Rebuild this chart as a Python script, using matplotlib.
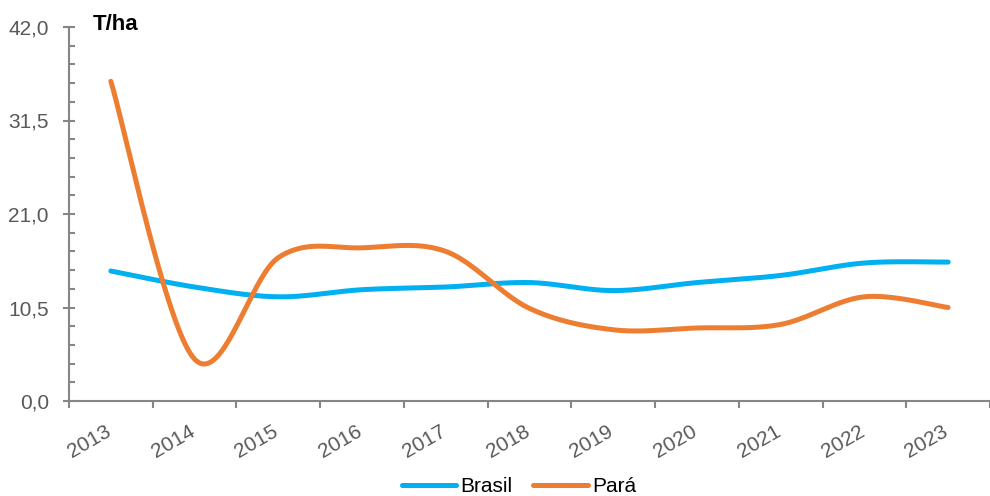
import numpy as np
import matplotlib.pyplot as plt
from matplotlib.ticker import FixedLocator, FuncFormatter, MultipleLocator

anos = ['2013', '2014', '2015', '2016', '2017', '2018', '2019', '2020', '2021', '2022', '2023']
brasil = [14.6, 12.8, 11.7, 12.5, 12.8, 13.3, 12.4, 13.3, 14.1, 15.5, 15.6]
para = [35.9, 4.7, 16.1, 17.2, 16.8, 10.4, 8.0, 8.2, 8.6, 11.7, 10.5]

cor_brasil = '#00B0F0'
cor_para = '#ED7D31'
cinza = '#595959'


def suaviza(y, n=40):
    # curva tipo Excel (bezier com pontos de controle catmull-rom)
    y = np.asarray(y, float)
    x = np.arange(len(y), dtype=float)
    px = np.concatenate([[x[0]], x, [x[-1]]])
    py = np.concatenate([[y[0]], y, [y[-1]]])
    xs, ys = [], []
    t = np.linspace(0, 1, n)
    for i in range(len(y) - 1):
        p0 = np.array([px[i], py[i]])
        p1 = np.array([px[i + 1], py[i + 1]])
        p2 = np.array([px[i + 2], py[i + 2]])
        p3 = np.array([px[i + 3], py[i + 3]])
        c1 = p1 + (p2 - p0) / 6.0
        c2 = p2 - (p3 - p1) / 6.0
        b = ((1 - t) ** 3)[:, None] * p1 + (3 * (1 - t) ** 2 * t)[:, None] * c1 \
            + (3 * (1 - t) * t ** 2)[:, None] * c2 + (t ** 3)[:, None] * p2
        xs.append(b[:, 0])
        ys.append(b[:, 1])
    return np.concatenate(xs), np.concatenate(ys)


plt.rcParams['font.family'] = ['Liberation Sans', 'DejaVu Sans']

fig = plt.figure(figsize=(9.9, 4.96), dpi=100)
ax = fig.add_axes([69 / 990, 1 - 401 / 496, 1 - 69 / 990, (401 - 27) / 496])

xb, yb = suaviza(brasil)
xp, yp = suaviza(para)
ax.plot(xb, yb, color=cor_brasil, lw=3.6, solid_capstyle='round', label='Brasil', zorder=3)
ax.plot(xp, yp, color=cor_para, lw=3.6, solid_capstyle='round', label='Pará', zorder=4)

ax.set_xlim(-0.5, 10.5 - 9 / 84.6)
ax.set_ylim(0, 42)

ax.yaxis.set_major_locator(FixedLocator([0, 10.5, 21, 31.5, 42]))
ax.yaxis.set_minor_locator(MultipleLocator(2.1))
ax.yaxis.set_major_formatter(FuncFormatter(lambda v, p: f'{v:.1f}'.replace('.', ',')))

ax.set_xticks(np.arange(len(anos)) + 0.04)
ax.set_xticklabels(anos, rotation=30, ha='right', va='top')
ax.set_xticks(np.arange(len(anos) + 1) - 0.5, minor=True)

for s in ['top', 'right']:
    ax.spines[s].set_visible(False)
for s in ['left', 'bottom']:
    ax.spines[s].set_color('#868686')
    ax.spines[s].set_linewidth(1.5)

ax.tick_params(axis='y', which='major', direction='inout', length=9, width=1.5,
               color='#868686', labelsize=15, labelcolor=cinza, pad=10)
ax.tick_params(axis='y', which='minor', direction='in', length=4, width=1.5, color='#868686')
ax.tick_params(axis='x', which='major', length=0, labelsize=15, labelcolor=cinza, pad=15)
ax.tick_params(axis='x', which='minor', direction='out', length=5, width=1.5, color='#868686')

fig.text(93 / 990, 1 - 25 / 496, 'T/ha', fontsize=16, fontweight='bold', color='black',
         ha='left', va='center')

leg = ax.legend(loc='center', bbox_to_anchor=(519 / 990, 9 / 496), bbox_transform=fig.transFigure,
                ncol=2, frameon=False, fontsize=15, handlelength=2.6, handletextpad=0.2,
                columnspacing=1.0)

fig.savefig('out.png', dpi=100)
